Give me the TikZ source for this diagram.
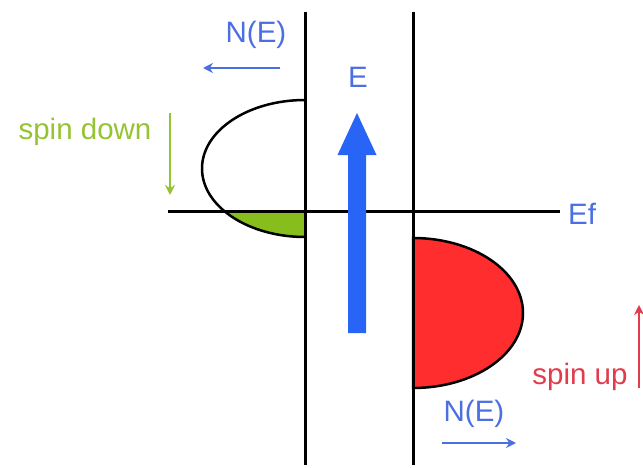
\documentclass[tikz,border=0pt]{standalone}
\usepackage{fontspec}
\setmainfont{Liberation Sans}
\usetikzlibrary{arrows.meta}
\definecolor{lblue}{RGB}{75,110,225}
\definecolor{abl}{RGB}{40,100,245}
\definecolor{sgreen}{RGB}{150,195,50}
\definecolor{fgreen}{RGB}{135,190,30}
\definecolor{fred}{RGB}{255,45,45}
\definecolor{tred}{RGB}{225,60,75}
\tikzset{
  axis/.style={line width=3pt, black},
  lbl/.style={font=\fontsize{29.5}{34}\selectfont, inner sep=0pt},
  thinarrow/.style={line width=2.8pt, -{Stealth[length=10pt,width=10pt]}}
}
\begin{document}
\begin{tikzpicture}[x=1pt,y=1pt]
\useasboundingbox (0,0) rectangle (643,467);
% green fill (below Ef)
\begin{scope}
\clip (0,0) rectangle (643,256);
\fill[fgreen] (305,367) arc[start angle=90,end angle=270,x radius=103,y radius=68.5] -- cycle;
\end{scope}
\draw[line width=2.5pt] (305,367) arc[start angle=90,end angle=270,x radius=103,y radius=68.5];
% red lobe
\filldraw[fill=fred, draw=black, line width=2.5pt] (413,229) arc[start angle=90,end angle=-90,x radius=110,y radius=75] -- cycle;
% axes
\coordinate (l1) at (305,455); \coordinate (l2) at (305,2);
\coordinate (r1) at (413,455); \coordinate (r2) at (413,2);
\coordinate (e1) at (168,256); \coordinate (e2) at (560,256);
\draw[axis] (l1) -- (l2);
\draw[axis] (r1) -- (r2);
\draw[axis] (e1) -- (e2);
\node[lbl, text=lblue, anchor=west] (ef) at (568,253) {Ef};
% big blue arrow
\fill[abl] (348,134) -- (366,134) -- (366,312) -- (376.5,312) -- (357,354) -- (337.5,312) -- (348,312) -- cycle;
\node[lbl, text=lblue] (E) at (358,390) {E};
% N(E) top
\node[lbl, text=lblue] (n1) at (256,432) {N(E)};
\coordinate (a1s) at (280,399); \coordinate (a1e) at (203,399);
\draw[thinarrow, lblue] (a1s) -- (a1e);
% N(E) bottom
\node[lbl, text=lblue] (n2) at (474,53) {N(E)};
\coordinate (a2s) at (442,24); \coordinate (a2e) at (516,24);
\draw[thinarrow, lblue] (a2s) -- (a2e);
% spin down
\node[lbl, text=sgreen] (sd) at (85,335) {spin down};
\coordinate (g1) at (170,354); \coordinate (g2) at (170,272);
\draw[thinarrow, sgreen, line width=2.2pt] (g1) -- (g2);
% spin up
\node[lbl, text=tred] (su) at (580,90) {spin up};
\coordinate (u1) at (639,79); \coordinate (u2) at (639,162);
\draw[thinarrow, tred, line width=2.2pt] (u1) -- (u2);
\end{tikzpicture}
\end{document}
